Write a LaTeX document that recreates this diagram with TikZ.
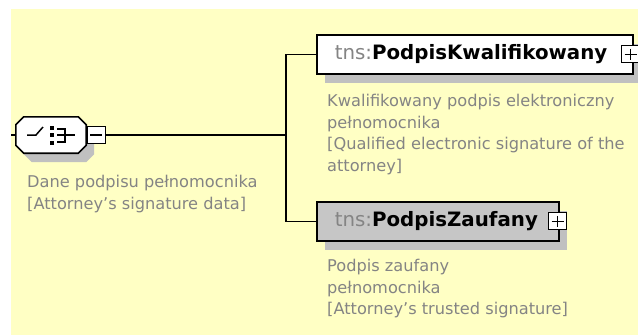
\documentclass[tikz,border=0pt]{standalone}
\usepackage{fontspec}
\setmainfont{DejaVu Sans}
\usetikzlibrary{shadows}
\definecolor{bgYellow}{RGB}{255,255,196}
\definecolor{shadowGray}{RGB}{192,192,192}
\definecolor{boxGray}{RGB}{198,198,198}
\definecolor{descGray}{RGB}{132,132,132}
\newcommand\lineW{1.6pt}
\newcommand\chamfer{8pt}
\newcommand\nsPrefix{\textcolor{descGray}{\mdseries tns:}}
\tikzset{
    elshadow/.style={drop shadow={shadow xshift=8pt, shadow yshift=-9pt, fill=shadowGray, opacity=1}},
    elbox/.style={draw, line width=\lineW, fill=white, elshadow, anchor=north west,
        minimum height=39pt, inner xsep=18pt, inner ysep=0pt, align=left,
        font=\fontsize{19.8}{24}\selectfont\bfseries},
    seqbox/.style={minimum width=70pt, minimum height=36pt, inner sep=0pt},
    signbox/.style={draw, line width=1.3pt, fill=white, minimum width=18pt, minimum height=17pt, inner sep=0pt},
    minusbox/.style={signbox, path picture={
        \draw[line width=1.3pt] ([xshift=3pt]path picture bounding box.west) -- ([xshift=-3pt]path picture bounding box.east);}},
    plusbox/.style={signbox, path picture={
        \draw[line width=1.3pt] ([xshift=3pt]path picture bounding box.west) -- ([xshift=-3pt]path picture bounding box.east);
        \draw[line width=1.3pt] ([yshift=-3pt]path picture bounding box.north) -- ([yshift=3pt]path picture bounding box.south);}},
    desc/.style={anchor=north west, inner sep=0pt, align=left, text=descGray,
        font=\fontsize{16.2}{21.5}\selectfont},
    wire/.style={line width=\lineW}
}

\begin{document}
\begin{tikzpicture}[x=1pt, y=-1pt]
    \useasboundingbox (0,0) rectangle (638,335);
    \fill[bgYellow] (11,9) rectangle (638,335);

    % sequence compositor
    \node[seqbox] (seq) at (51,135) {};
    \draw[line width=\lineW, fill=white, elshadow]
        ([xshift=\chamfer]seq.north west) -- ([xshift=-\chamfer]seq.north east)
        -- ([yshift=-\chamfer]seq.north east) -- ([yshift=\chamfer]seq.south east)
        -- ([xshift=-\chamfer]seq.south east) -- ([xshift=\chamfer]seq.south west)
        -- ([yshift=\chamfer]seq.south west) -- ([yshift=-\chamfer]seq.north west) -- cycle;
    \node[minusbox, anchor=west] (seqMinus) at ([xshift=0.5pt]seq.east) {};
    \begin{scope}[shift={(seq.center)}, line width=1.5pt]
        \draw (-24,0) -- (-15,0) -- (-8,-8);
        \foreach \dy in {-7.5, 0, 7.5}
            \fill (-1,\dy-2) rectangle (3,\dy+2);
        \draw (6,-6) -- (14,-6) -- (14,7) -- (6,7);
        \draw (6,0) -- (24,0);
    \end{scope}
    \node[desc] (seqDesc) at (27,175) {Dane podpisu pełnomocnika\\{}[Attorney's signature data]};

    % child elements
    \node[elbox, text width=280pt] (kwal) at (316,34) {\nsPrefix PodpisKwalifikowany};
    \node[plusbox] (kwalPlus) at ([xshift=-3pt]kwal.east) {};
    \node[desc] (kwalDesc) at (327,94) {Kwalifikowany podpis elektroniczny\\pełnomocnika\\{}[Qualified electronic signature of the\\attorney]};

    \node[elbox, fill=boxGray, text width=206pt] (zauf) at (316,201) {\nsPrefix PodpisZaufany};
    \node[plusbox] (zaufPlus) at ([xshift=-2pt]zauf.east) {};
    \node[desc] (zaufDesc) at (327,259) {Podpis zaufany\\pełnomocnika\\{}[Attorney's trusted signature]};

    % connectors
    \coordinate (in) at (11,135);
    \coordinate (fork) at (286,135);
    \draw[wire] (in) -- (seq.west);
    \draw[wire] (seqMinus.east) -- (fork);
    \draw[wire] (kwal.west) -| (fork) |- (zauf.west);
\end{tikzpicture}
\end{document}
